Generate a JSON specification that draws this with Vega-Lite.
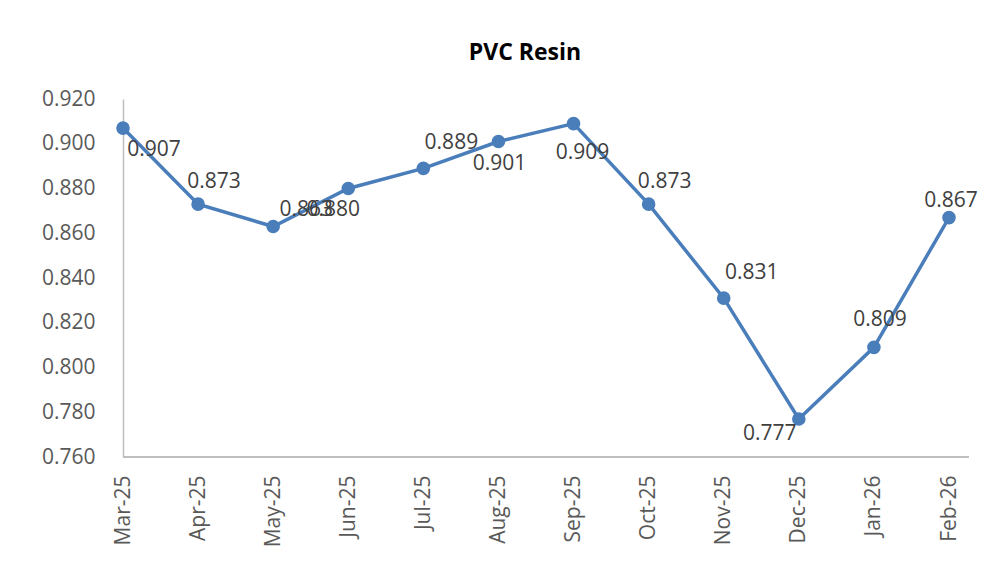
{
  "$schema": "https://vega.github.io/schema/vega-lite/v6.json",
  "width": 846,
  "height": 358,
  "autosize": {"type": "none"},
  "padding": {"left": 123, "top": 99, "right": 21, "bottom": 104},
  "background": "white",
  "config": {
    "view": {"stroke": null},
    "font": "Open Sans",
    "axis": {"labelFont": "Open Sans", "labelFontSize": 21, "labelColor": "#595959", "ticks": false, "grid": false, "title": null}
  },
  "title": {
    "text": "PVC Resin",
    "font": "Open Sans",
    "fontSize": 23,
    "fontWeight": "bold",
    "color": "#000000",
    "anchor": "middle",
    "dx": -21,
    "offset": 5,
    "baseline": "alphabetic"
  },
  "data": {
    "values": [
      {"month": "Mar-25", "price": 0.907},
      {"month": "Apr-25", "price": 0.873},
      {"month": "May-25", "price": 0.863},
      {"month": "Jun-25", "price": 0.880},
      {"month": "Jul-25", "price": 0.889},
      {"month": "Aug-25", "price": 0.901},
      {"month": "Sep-25", "price": 0.909},
      {"month": "Oct-25", "price": 0.873},
      {"month": "Nov-25", "price": 0.831},
      {"month": "Dec-25", "price": 0.777},
      {"month": "Jan-26", "price": 0.809},
      {"month": "Feb-26", "price": 0.867}
    ]
  },
  "encoding": {
    "x": {
      "field": "month",
      "type": "ordinal",
      "sort": null,
      "scale": {"type": "point", "range": [0, 826], "padding": 0},
      "axis": {"labelAngle": -90, "labelAlign": "right", "labelBaseline": "middle", "labelPadding": 18, "domain": false}
    },
    "y": {
      "field": "price",
      "type": "quantitative",
      "scale": {"domain": [0.76, 0.92], "nice": false, "zero": false},
      "axis": {"values": [0.76, 0.78, 0.8, 0.82, 0.84, 0.86, 0.88, 0.9, 0.92], "format": ".3f", "labelPadding": 28, "domainColor": "#bfbfbf", "domainWidth": 1.5}
    }
  },
  "layer": [
    {"mark": {"type": "rule", "color": "#bfbfbf", "strokeWidth": 1.5}, "encoding": {"x": null, "y": {"datum": 0.76}}},
    {"mark": {"type": "line", "color": "#4a7ebb", "strokeWidth": 3.5, "point": {"filled": true, "size": 185, "color": "#4a7ebb", "opacity": 1}}},
    {"transform": [{"filter": {"field": "month", "oneOf": ["Mar-25"]}}], "mark": {"type": "text", "fontSize": 21, "color": "#404040", "align": "center", "baseline": "middle", "dx": 31, "dy": 22}, "encoding": {"text": {"field": "price", "format": ".3f"}}},
    {"transform": [{"filter": {"field": "month", "oneOf": ["Apr-25", "Oct-25"]}}], "mark": {"type": "text", "fontSize": 21, "color": "#404040", "align": "center", "baseline": "middle", "dx": 16, "dy": -22}, "encoding": {"text": {"field": "price", "format": ".3f"}}},
    {"transform": [{"filter": {"field": "month", "oneOf": ["May-25"]}}], "mark": {"type": "text", "fontSize": 21, "color": "#404040", "align": "center", "baseline": "middle", "dx": 33, "dy": -17}, "encoding": {"text": {"field": "price", "format": ".3f"}}},
    {"transform": [{"filter": {"field": "month", "oneOf": ["Jun-25"]}}], "mark": {"type": "text", "fontSize": 21, "color": "#404040", "align": "center", "baseline": "middle", "dx": -15, "dy": 21}, "encoding": {"text": {"field": "price", "format": ".3f"}}},
    {"transform": [{"filter": {"field": "month", "oneOf": ["Jul-25", "Nov-25"]}}], "mark": {"type": "text", "fontSize": 21, "color": "#404040", "align": "center", "baseline": "middle", "dx": 28, "dy": -25}, "encoding": {"text": {"field": "price", "format": ".3f"}}},
    {"transform": [{"filter": {"field": "month", "oneOf": ["Aug-25"]}}], "mark": {"type": "text", "fontSize": 21, "color": "#404040", "align": "center", "baseline": "middle", "dx": 1, "dy": 22}, "encoding": {"text": {"field": "price", "format": ".3f"}}},
    {"transform": [{"filter": {"field": "month", "oneOf": ["Sep-25"]}}], "mark": {"type": "text", "fontSize": 21, "color": "#404040", "align": "center", "baseline": "middle", "dx": 9, "dy": 29}, "encoding": {"text": {"field": "price", "format": ".3f"}}},
    {"transform": [{"filter": {"field": "month", "oneOf": ["Dec-25"]}}], "mark": {"type": "text", "fontSize": 21, "color": "#404040", "align": "center", "baseline": "middle", "dx": -29, "dy": 15}, "encoding": {"text": {"field": "price", "format": ".3f"}}},
    {"transform": [{"filter": {"field": "month", "oneOf": ["Jan-26"]}}], "mark": {"type": "text", "fontSize": 21, "color": "#404040", "align": "center", "baseline": "middle", "dx": 6, "dy": -27}, "encoding": {"text": {"field": "price", "format": ".3f"}}},
    {"transform": [{"filter": {"field": "month", "oneOf": ["Feb-26"]}}], "mark": {"type": "text", "fontSize": 21, "color": "#404040", "align": "center", "baseline": "middle", "dx": 2, "dy": -17}, "encoding": {"text": {"field": "price", "format": ".3f"}}}
  ]
}
